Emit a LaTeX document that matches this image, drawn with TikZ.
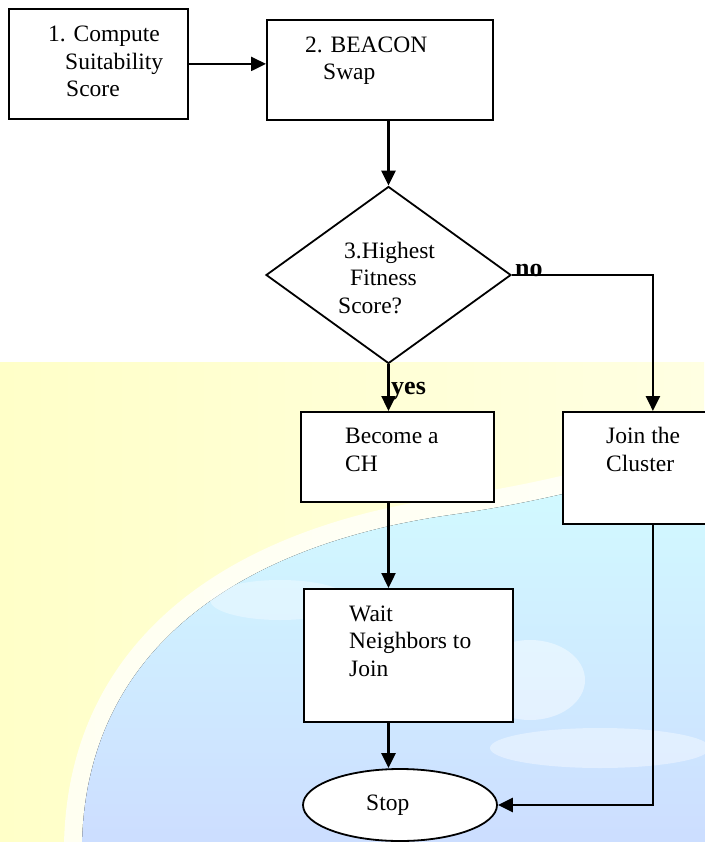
\documentclass[tikz,border=0pt]{standalone}
\usepackage{fontspec}
\setmainfont{Liberation Serif}
\usetikzlibrary{arrows.meta,shapes.geometric}
\definecolor{bgyellow}{HTML}{FFFFE2}
\definecolor{bgyellowdeep}{HTML}{FFFFC8}
\definecolor{globecyan}{HTML}{D2FCFF}
\definecolor{globeblue}{HTML}{CCDCFF}
\tikzset{
  stepbox/.style={draw, fill=white, line width=1.8pt, inner sep=0pt, anchor=north west},
  steptext/.style={anchor=base west, inner sep=0pt, align=left, font=\fontsize{23.5}{27.5}\selectfont},
  answer/.style={anchor=base west, inner sep=0pt, font=\fontsize{26}{30}\selectfont\bfseries},
  flow/.style={line width=2.4pt, -{Triangle[length=15pt,width=14pt]}}
}

\begin{document}
\begin{tikzpicture}[x=1pt,y=-1pt]
\useasboundingbox (0,0) rectangle (704,842);
% background
\fill[left color=bgyellowdeep, right color=bgyellow] (0,362) rectangle (704,842);
\draw[white, line width=36pt, opacity=.75] (82,860) .. controls (78,650) and (240,545) .. (450,515) .. controls (570,498) and (640,472) .. (720,455);
\fill[top color=globecyan, bottom color=globeblue] (82,860) .. controls (78,650) and (240,545) .. (450,515) .. controls (570,498) and (640,472) .. (720,455) -- (720,860) -- cycle;
\fill[white, opacity=.45] (530,680) ellipse (55 and 40);
\fill[white, opacity=.4] (600,748) ellipse (110 and 20);
\fill[white, opacity=.35] (280,600) ellipse (70 and 20);

% steps
\node[stepbox, minimum width=179, minimum height=110] (compute) at (8,8) {};
\node[steptext] (computetxt) at (48,97) {1. Compute\\\hspace*{17pt}Suitability\\\hspace*{18pt}Score};
\node[stepbox, minimum width=226, minimum height=100] (beacon) at (266,19) {};
\node[steptext] (beacontxt) at (305,80) {2. BEACON\\\hspace*{18pt}Swap};
\node[draw, diamond, fill=white, line width=1.8pt, inner sep=0pt, minimum width=245, minimum height=177] (fitness) at (388.5,275) {};
\node[steptext] (fitnesstxt) at (338,313) {\hspace*{6pt}3.Highest\\\hspace*{12pt}Fitness\\Score?};
\node[stepbox, minimum width=193, minimum height=90] (becomech) at (300,411) {};
\node[steptext] (becomechtxt) at (345,471) {Become a\\CH};
\node[stepbox, minimum width=180, minimum height=112] (joincl) at (562,411) {};
\node[steptext] (joincltxt) at (606,471) {Join the\\Cluster};
\node[stepbox, minimum width=209, minimum height=133] (waitnb) at (303,588) {};
\node[steptext] (waitnbtxt) at (349,676) {Wait\\Neighbors to\\Join};
\node[draw, ellipse, fill=white, line width=1.8pt, inner sep=0pt, minimum width=194, minimum height=72] (stop) at (400,805) {};
\node[steptext] (stoptxt) at (366,810) {Stop};

% connectors
\draw[flow] (compute.east) -- (compute.east -| beacon.west);
\draw[flow] (fitness.north |- beacon.south) -- (fitness.north);
\draw[flow] (fitness.south) -- (fitness.south |- becomech.north);
\draw[flow] (fitness.east) -| (joincl.north);
\draw[flow] (fitness.south |- becomech.south) -- (fitness.south |- waitnb.north);
\draw[flow] (fitness.south |- waitnb.south) -- (fitness.south |- stop.north);
\draw[flow] (joincl.south) |- (stop.east);
\node[answer] (no) at (515,276) {no};
\node[answer] (yes) at (391,394) {yes};
\end{tikzpicture}
\end{document}
